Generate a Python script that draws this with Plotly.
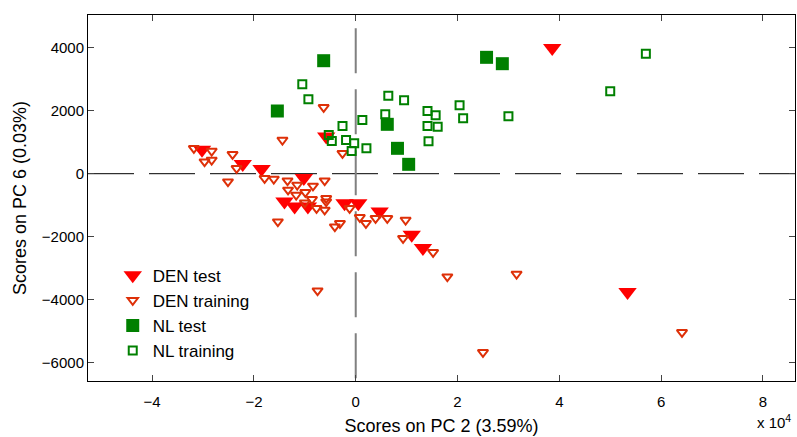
import plotly.graph_objects as go

# PCA scores: PC 2 (in units of 1e4) vs PC 6
den_test_x = [3.86, 5.34, -3.02, -2.22, -1.85, -1.02, -1.40, -1.20, -0.94, -0.22, 0.05, 0.47, 1.10, 1.32, -0.58]
den_test_y = [3990, -3760, 760, 310, 150, -140, -880, -1040, -1040, -940, -940, -1200, -1940, -2360, 1180]

den_train_x = [-3.18, -2.83, -2.97, -2.83, -2.42, -2.34, -2.51, -1.79, -1.61, -1.34, -1.15, -0.84,
               -0.61, -1.33, -1.17, -0.99, -0.86, -0.58, -1.00, -0.77, -0.61, -0.58, -1.53, -0.41,
               -0.31, -0.12, 0.08, 0.20, 0.39, 0.62, 0.98, 0.93, 1.52, 1.80, 3.16, 2.50, 6.41,
               -0.75, -1.44, -0.63, -0.26]
den_train_y = [806, 721, 381, 435, 616, 171, -254, -146, -168, -222, -359, -390,
               -222, -517, -676, -591, -813, -781, -920, -1100, -1152, -889, -1524, -1683,
               -1575, -1100, -1385, -1575, -1417, -1417, -1470, -2051, -2497, -3270, -3185, -5671, -5036,
               -3715, 1070, 2108, 648]

nl_test_x = [-1.54, -0.63, 0.62, 0.82, 1.04, 2.57, 2.88]
nl_test_y = [1991, 3588, 1568, 806, 298, 3695, 3493]

nl_train_x = [-1.05, -0.93, -0.26, -0.53, -0.47, -0.19, -0.03, -0.08, 0.13, 0.21, 0.64, 0.95,
              0.58, 1.41, 1.57, 1.41, 1.61, 1.43, 2.04, 2.11, 3.00, 5.00, 5.70]
nl_train_y = [2838, 2362, 1514, 1229, 1038, 1070, 965, 721, 1705, 806, 2477, 2330,
              1886, 1991, 1854, 1514, 1492, 1029, 2172, 1759, 1822, 2616, 3810]

x_ticks = [-4, -2, 0, 2, 4, 6, 8]
y_ticks = [-6000, -4000, -2000, 0, 2000, 4000]

RED = "rgb(255,0,0)"
ORANGE_RED = "rgb(222,48,8)"
GREEN = "rgb(0,128,0)"
FONT = "Liberation Sans, Arial, sans-serif"

fig = go.Figure()

fig.add_trace(go.Scatter(
    x=den_test_x, y=den_test_y, mode="markers", name="DEN test",
    marker=dict(symbol="triangle-down", size=16, color=RED, line=dict(width=0)),
))
fig.add_trace(go.Scatter(
    x=den_train_x, y=den_train_y, mode="markers", name="DEN training",
    marker=dict(symbol="triangle-down-open", size=9, color=ORANGE_RED, line=dict(width=2, color=ORANGE_RED)),
))
fig.add_trace(go.Scatter(
    x=nl_test_x, y=nl_test_y, mode="markers", name="NL test",
    marker=dict(symbol="square", size=13, color=GREEN, line=dict(width=0)),
))
fig.add_trace(go.Scatter(
    x=nl_train_x, y=nl_train_y, mode="markers", name="NL training",
    marker=dict(symbol="square-open", size=8, color=GREEN, line=dict(width=2, color=GREEN)),
))

# dashed zero reference lines
fig.add_shape(type="line", xref="paper", yref="y", x0=0, x1=1, y0=0, y1=0,
              line=dict(color="black", width=1, dash="46px,15px"), layer="below")
fig.add_shape(type="line", xref="x", yref="y", x0=0, x1=0, y0=4620, y1=-6580,
              line=dict(color="rgb(128,128,128)", width=2, dash="45px,16px"), layer="below")

fig.add_annotation(text="x 10<sup>4</sup>", xref="paper", yref="paper", x=0.997, y=-0.11,
                   xanchor="right", yanchor="middle", showarrow=False,
                   font=dict(family=FONT, size=15, color="black"))

fig.update_xaxes(range=[-5.26, 8.63], tickvals=x_ticks, ticks="inside", ticklen=6,
                 ticklabelstandoff=7,
                 showline=True, linecolor="black", linewidth=1, mirror="ticks",
                 showgrid=False, zeroline=False,
                 tickfont=dict(family=FONT, size=15, color="black"),
                 title=dict(text="Scores on PC 2 (3.59%)", font=dict(family=FONT, size=18, color="black"), standoff=10))
fig.update_yaxes(range=[-6582, 5039], tickvals=y_ticks, ticks="inside", ticklen=6,
                 showline=True, linecolor="black", linewidth=1, mirror="ticks",
                 showgrid=False, zeroline=False,
                 tickfont=dict(family=FONT, size=15, color="black"),
                 title=dict(text="Scores on PC 6 (0.03%)", font=dict(family=FONT, size=18, color="black"), standoff=10))

fig.update_layout(
    width=797, height=437,
    margin=dict(l=88, r=2, t=15, b=56),
    paper_bgcolor="white", plot_bgcolor="white",
    font=dict(family=FONT, color="black"),
    legend=dict(x=0.035, y=0.337, xanchor="left", yanchor="top",
                bgcolor="rgba(255,255,255,0)", borderwidth=0,
                font=dict(family=FONT, size=17, color="black")),
)

fig.write_html("out.html")
